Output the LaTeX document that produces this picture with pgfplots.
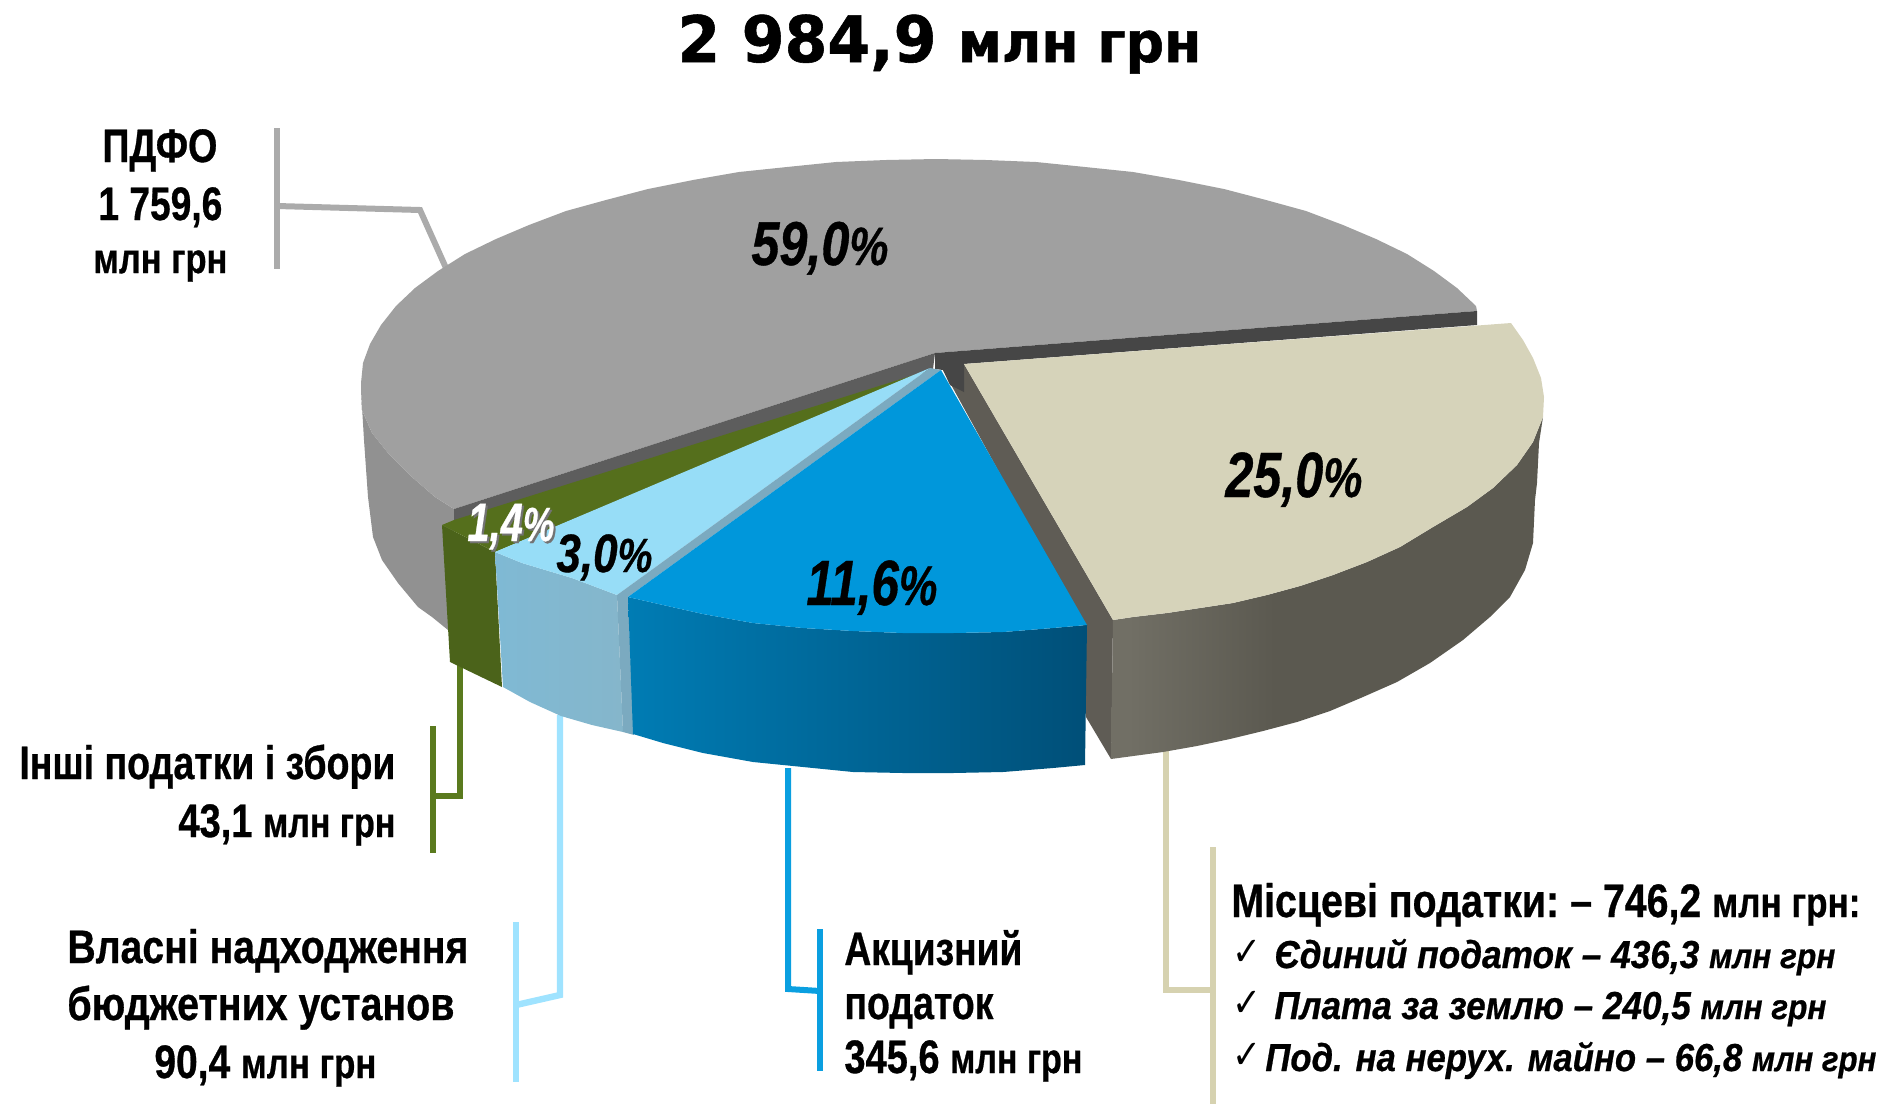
\documentclass[border=0pt]{standalone}
\usepackage{pgfplots}
\pgfplotsset{compat=1.18}
\usepackage{graphicx}
\usepackage{fontspec}
\setmainfont[BoldFeatures={FakeBold=0.7},BoldItalicFeatures={FakeBold=0.7}]{Liberation Sans}
\newfontfamily\titlefont[BoldFeatures={FakeBold=0.9}]{DejaVu Sans}
\newfontfamily\symfont{DejaVu Sans}
\definecolor{gtop}{HTML}{A0A0A0}
\definecolor{gwall}{HTML}{919191}
\definecolor{gdark}{HTML}{464646}
\definecolor{gdarkb}{HTML}{5D5D5D}
\definecolor{btop}{HTML}{D6D3BA}
\definecolor{bwa}{HTML}{716F65}
\definecolor{bwb}{HTML}{5B5950}
\definecolor{bface}{HTML}{5F5C55}
\definecolor{bltop}{HTML}{0097DB}
\definecolor{blwa}{HTML}{007CB4}
\definecolor{blwb}{HTML}{004F78}
\definecolor{ltop}{HTML}{97DDF7}
\definecolor{lwa}{HTML}{7FB9D4}
\definecolor{lwb}{HTML}{85B6CB}
\definecolor{lface}{HTML}{7BAAC0}
\definecolor{gntop}{HTML}{556F1C}
\definecolor{gnwall}{HTML}{4B631A}
\definecolor{lgrey}{HTML}{ABABAB}
\definecolor{lgreen}{HTML}{5A7A1E}
\definecolor{llight}{HTML}{9FE3FF}
\definecolor{lblue}{HTML}{0A9FE0}
\definecolor{lbeige}{HTML}{D6D2B0}
\pgfdeclarehorizontalshading{beigewall}{100bp}{color(0bp)=(bwa);color(27bp)=(bwa);color(44bp)=(bwb);color(100bp)=(bwb)}
\pgfdeclarehorizontalshading{bluewall}{100bp}{color(0bp)=(blwa);color(25bp)=(blwa);color(75bp)=(blwb);color(100bp)=(blwb)}
\pgfdeclarehorizontalshading{lightwall}{100bp}{color(0bp)=(lwa);color(25bp)=(lwa);color(75bp)=(lwb);color(100bp)=(lwb)}
% one line of text: x, baseline y, anchor, width in px, content
\newcommand{\lab}[5]{\node[inner sep=0pt,anchor=#3] at (axis cs:#1,#2) {\resizebox{\dimexpr#4pt/2\relax}{\height}{#5}};}
\newcommand{\fbig}{\bfseries\fontsize{23.5}{24}\selectfont}
\newcommand{\fmid}{\bfseries\fontsize{21}{24}\selectfont}
\newcommand{\subl}{\bfseries\itshape\fontsize{19.5}{24}\selectfont}
\newcommand{\subs}{\bfseries\itshape\fontsize{17.5}{24}\selectfont}
\newcommand{\pct}[1]{\bfseries\itshape\fontsize{#1}{24}\selectfont}
\begin{document}
\begin{tikzpicture}
\path[use as bounding box] (0,0) rectangle (948pt,552pt);
\begin{axis}[at={(0,0)},anchor=south west,scale only axis,width=948pt,height=552pt,
  xmin=0,xmax=1896,ymin=0,ymax=1104,y dir=reverse,hide axis,clip=false]
% leaders
\addplot[lgrey,line width=3pt,no marks] coordinates {(277,128) (277,269)};
\addplot[lgrey,line width=3pt,no marks] coordinates {(277,206) (420,210) (446,268)};
\addplot[lgreen,line width=3pt,no marks] coordinates {(433,726) (433,853)};
\addplot[lgreen,line width=3pt,no marks] coordinates {(433,796) (460,796) (460,655)};
\addplot[llight,line width=3.2pt,no marks] coordinates {(516,922) (516,1082)};
\addplot[llight,line width=3.2pt,no marks] coordinates {(516,1005) (560,995) (560,715)};
\addplot[lblue,line width=3pt,no marks] coordinates {(820,929) (820,1071)};
\addplot[lblue,line width=3pt,no marks] coordinates {(788,768) (788,989) (820,991)};
\addplot[lbeige,line width=3.2pt,no marks] coordinates {(1213,847) (1213,1104)};
\addplot[lbeige,line width=3.2pt,no marks] coordinates {(1166,750) (1166,990) (1213,990)};
% grey wall
\addplot[draw=none,fill=gwall] coordinates {(361,390) (362,410) (372,433) (388,453) (412,477) (435,497) (454,509) (455,560) (448,630) (432,617) (418,607) (398,583) (382,560) (373,537) (368,497) (364,440)} -- cycle;
% grey top
\addplot[draw=none,fill=gtop] coordinates {(1477,311) (1476,306) (1457,288) (1434,271) (1407,254) (1376,239) (1343,225) (1306,211) (1266,200) (1224,189) (1179,180) (1133,172) (1085,167) (1036,162) (986,160) (936,159) (886,160) (836,162) (787,167) (739,172) (693,180) (648,189) (606,200) (566,211) (529,225) (496,239) (465,254) (438,271) (415,288) (396,306) (381,325) (370,344) (363,363) (361,383) (361,390) (362,410) (372,433) (388,453) (412,477) (435,497) (454,509) (935,353)} -- cycle;
% beige cut face and dark face
\addplot[draw=none,fill=bface] coordinates {(943,370) (964,364) (1113,620) (1111,759) (1086,717) (1083,700) (1083,625)} -- cycle;
\addplot[draw=none,fill=gdark] coordinates {(935,353) (1477,311) (1477,325) (964,364) (964,392) (950,385) (943,370) (935,369)} -- cycle;
\addplot[draw=none,fill=gdarkb] coordinates {(935,353) (454,509) (454,525) (933,369)} -- cycle;
% beige wall
\addplot[draw=none,shading=beigewall] coordinates {(1113,620) (1133,617) (1167,613) (1200,608) (1233,603) (1267,595) (1300,586) (1333,575) (1367,562) (1400,547) (1433,527) (1467,507) (1493,488) (1517,465) (1533,442) (1543,417) (1539,443) (1537,483) (1535,500) (1533,543) (1525,570) (1510,597) (1490,617) (1463,640) (1430,663) (1397,682) (1363,697) (1330,711) (1297,722) (1263,731) (1230,739) (1197,746) (1163,752) (1111,759)} -- cycle;
% beige top
\addplot[draw=none,fill=btop] coordinates {(964,364) (1511,323) (1523,340) (1533,358) (1541,378) (1544,397) (1543,417) (1533,442) (1517,465) (1493,488) (1467,507) (1433,527) (1400,547) (1367,562) (1333,575) (1300,586) (1267,595) (1233,603) (1200,608) (1167,613) (1133,617) (1113,620)} -- cycle;
% green
\addplot[draw=none,fill=gnwall] coordinates {(442,525) (495,552) (502,687) (450,662)} -- cycle;
\addplot[draw=none,fill=gntop] coordinates {(933,369) (454,520) (442,525) (495,552)} -- cycle;
% light blue
\addplot[draw=none,shading=lightwall] coordinates {(495,552) (522,563) (572,578) (617,595) (623,732) (592,725) (561,716) (530,702) (503,687)} -- cycle;
\addplot[draw=none,fill=ltop] coordinates {(930,368) (617,595) (572,578) (522,563) (495,552)} -- cycle;
\addplot[draw=none,fill=lface] coordinates {(941,370) (628,597) (634,735) (623,732) (617,595) (930,368)} -- cycle;
% blue
\addplot[draw=none,shading=bluewall] coordinates {(628,597) (663,605) (703,614) (753,623) (803,628) (853,631) (903,633) (953,633) (1003,632) (1053,628) (1087,625) (1085,765) (1053,768) (1003,772) (953,773) (903,773) (853,772) (803,767) (753,762) (703,753) (663,743) (633,734)} -- cycle;
\addplot[draw=none,fill=bltop] coordinates {(941,370) (1087,625) (1053,628) (1003,632) (953,633) (903,633) (853,631) (803,628) (753,623) (703,614) (663,605) (628,597)} -- cycle;
% percentages
\lab{751}{265}{base west}{137}{\pct{31}59,0\pct{27}\%}
\lab{1225}{497}{base west}{137}{\pct{32}25,0\pct{28}\%}
\lab{806}{605}{base west}{131}{\pct{32}11,6\pct{28}\%}
\lab{556}{572}{base west}{96}{\pct{27}3,0\pct{24}\%}
\lab{469}{543}{base west}{87}{\color{black!55}\pct{27}1,4\pct{24}\%}
\lab{467}{541}{base west}{87}{\color{white}\pct{27}1,4\pct{24}\%}
% title
\lab{677}{62}{base west}{524}{\titlefont\bfseries\fontsize{32}{36}\selectfont 2 984,9 \fontsize{28}{36}\selectfont млн грн}
% labels
\lab{102}{162}{base west}{115}{\fbig ПДФО}
\lab{98}{220}{base west}{124}{\fbig 1 759,6}
\lab{93}{273}{base west}{134}{\fmid млн грн}
\lab{19}{779}{base west}{376}{\fbig Інші податки і збори}
\lab{178}{837}{base west}{217}{\fbig 43,1 \fmid млн грн}
\lab{67}{963}{base west}{401}{\fbig Власні надходження}
\lab{67}{1020}{base west}{387}{\fbig бюджетних установ}
\lab{154}{1078}{base west}{222}{\fbig 90,4 \fmid млн грн}
\lab{844}{965}{base west}{178}{\fbig Акцизний}
\lab{844}{1019}{base west}{149}{\fbig податок}
\lab{844}{1073}{base west}{238}{\fbig 345,6 \fmid млн грн}
\lab{1231}{917}{base west}{629}{\fbig Місцеві податки:\hspace{-2pt} – 746,2 \fmid млн грн:}
\lab{1232}{965}{base west}{29}{\symfont\fontsize{20}{24}\selectfont ✓}
\lab{1232}{1016}{base west}{29}{\symfont\fontsize{20}{24}\selectfont ✓}
\lab{1232}{1068}{base west}{29}{\symfont\fontsize{20}{24}\selectfont ✓}
\lab{1274}{968}{base west}{561}{\subl Єдиний податок – 436,3 \subs млн грн}
\lab{1274}{1019}{base west}{552}{\subl Плата за землю – 240,5 \subs млн грн}
\lab{1265}{1071}{base west}{611}{\subl Под. на нерух. майно – 66,8 \subs млн грн}
\end{axis}
\end{tikzpicture}
\end{document}
